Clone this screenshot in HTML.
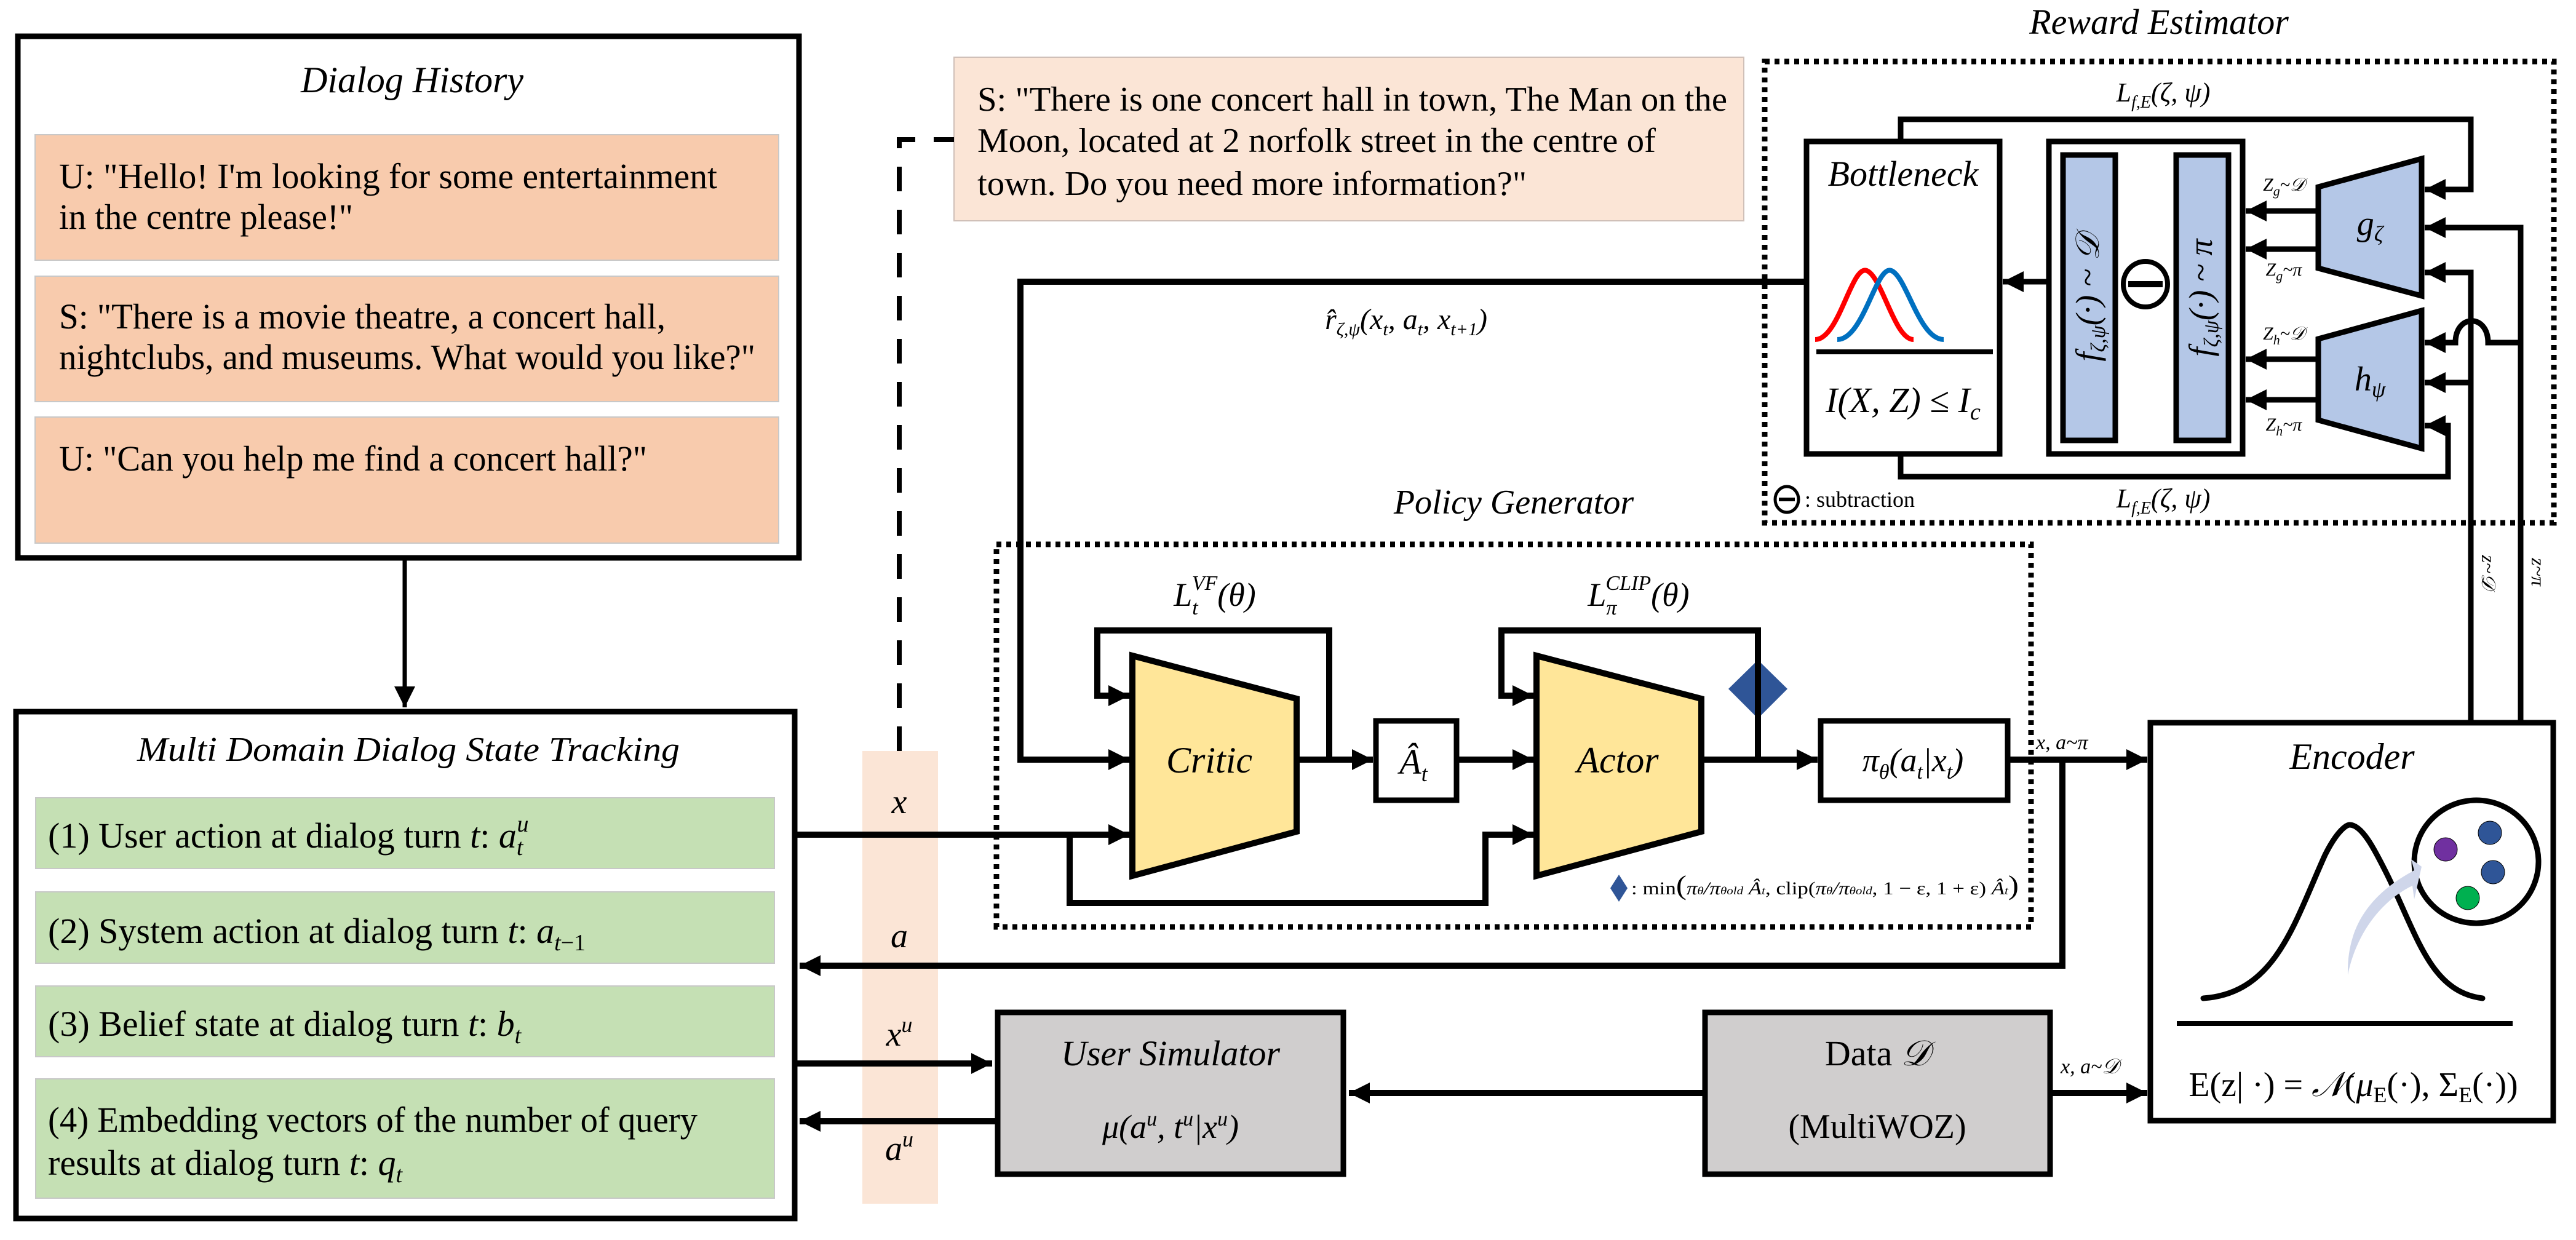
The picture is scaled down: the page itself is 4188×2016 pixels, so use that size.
<!DOCTYPE html>
<html><head><meta charset="utf-8"><style>
html,body{margin:0;padding:0;background:#fff;width:4188px;height:2016px;overflow:hidden}
svg{display:block}
text{font-family:"Liberation Serif","Times New Roman","Noto Serif CJK SC",serif;fill:#000}
.it{font-style:italic}
</style></head><body>
<svg width="4188" height="2016" viewBox="0 0 4188 2016" xmlns="http://www.w3.org/2000/svg" font-family="'Liberation Serif','Times New Roman','Noto Serif CJK SC',serif">
<defs>
<marker id="ar" markerUnits="userSpaceOnUse" markerWidth="34" markerHeight="34" viewBox="0 0 10 10" refX="10" refY="5" orient="auto"><path d="M0,0 L10,5 L0,10 z" fill="#000"/></marker>
</defs>
<g fill="none" stroke="#000" stroke-width="9">
<rect x="29" y="59" width="1270" height="848"/>
<rect x="26" y="1157" width="1266" height="824"/>
</g>
<g stroke="#c8c8c8" stroke-width="2">
<rect x="57" y="219" width="1209" height="204" fill="#f8cbad"/>
<rect x="57" y="449" width="1209" height="204" fill="#f8cbad"/>
<rect x="57" y="678" width="1209" height="205" fill="#f8cbad"/>
<rect x="58" y="1297" width="1201" height="115" fill="#c5e0b4"/>
<rect x="58" y="1450" width="1201" height="116" fill="#c5e0b4"/>
<rect x="58" y="1603" width="1201" height="115" fill="#c5e0b4"/>
<rect x="58" y="1754" width="1201" height="194" fill="#c5e0b4"/>
</g>
<rect x="1402" y="1221" width="123" height="736" fill="#fbe5d6"/>
<rect x="1551" y="93" width="1284" height="266" fill="#fbe5d6" stroke="#d0c0b8" stroke-width="2"/>

<text x="489" y="150" font-size="60" class="it" textLength="362" lengthAdjust="spacingAndGlyphs">Dialog History</text>
<g font-size="58">
<text x="96" y="306" textLength="1070" lengthAdjust="spacingAndGlyphs">U: "Hello!  I'm looking for some entertainment</text>
<text x="96" y="372" textLength="478" lengthAdjust="spacingAndGlyphs">in the centre please!"</text>
<text x="96" y="534" textLength="986" lengthAdjust="spacingAndGlyphs">S: "There is a movie theatre, a concert hall,</text>
<text x="96" y="600" textLength="1132" lengthAdjust="spacingAndGlyphs">nightclubs, and museums. What would you like?"</text>
<text x="96" y="765" textLength="956" lengthAdjust="spacingAndGlyphs">U: "Can you help me find a concert hall?"</text>
</g>
<g font-size="56">
<text x="1589" y="180" textLength="1219" lengthAdjust="spacingAndGlyphs">S: "There is one concert hall in town, The Man on the</text>
<text x="1589" y="247" textLength="1103" lengthAdjust="spacingAndGlyphs">Moon, located at 2 norfolk street in the centre of</text>
<text x="1589" y="317" textLength="893" lengthAdjust="spacingAndGlyphs">town. Do you need more information?"</text>
</g>
<text x="223" y="1237" font-size="56" class="it" textLength="882" lengthAdjust="spacingAndGlyphs">Multi Domain Dialog State Tracking</text>
<g font-size="58">
<text x="78" y="1378">(1) User action at dialog turn <tspan class="it">t</tspan>:  <tspan class="it">a</tspan><tspan class="it" font-size="38" dy="12">t</tspan><tspan class="it" font-size="38" dx="-10" dy="-38">u</tspan></text>
<text x="78" y="1533">(2) System action at dialog turn <tspan class="it">t</tspan>:  <tspan class="it">a</tspan><tspan font-size="38" dy="12"><tspan class="it">t</tspan>−1</tspan></text>
<text x="78" y="1684">(3) Belief state at dialog turn <tspan class="it">t</tspan>:  <tspan class="it">b</tspan><tspan class="it" font-size="38" dy="12">t</tspan></text>
<text x="78" y="1840" textLength="1056" lengthAdjust="spacingAndGlyphs">(4) Embedding vectors of the number of query</text>
<text x="78" y="1910">results at dialog turn <tspan class="it">t</tspan>:  <tspan class="it">q</tspan><tspan class="it" font-size="38" dy="12">t</tspan></text>
</g>
<g font-size="56" class="it" text-anchor="middle">
<text x="1462" y="1322">x</text>
<text x="1462" y="1540">a</text>
<text x="1462" y="1700">x<tspan font-size="36" dy="-22">u</tspan></text>
<text x="1462" y="1886">a<tspan font-size="36" dy="-22">u</tspan></text>
</g>

<path d="M1462 1221 V227 H1551" fill="none" stroke="#000" stroke-width="8" stroke-dasharray="40 30"/>

<rect x="1620" y="885" width="1682" height="622" fill="none" stroke="#000" stroke-width="9" stroke-dasharray="8 8"/>
<text x="2461" y="835" font-size="56" class="it" text-anchor="middle">Policy Generator</text>
<rect x="2869" y="100" width="1283" height="750" fill="none" stroke="#000" stroke-width="9" stroke-dasharray="8 8"/>
<text x="3510" y="55" font-size="58" class="it" text-anchor="middle">Reward Estimator</text>

<polygon points="1841,1066 2108,1136 2108,1352 1841,1424" fill="#ffe699" stroke="#000" stroke-width="10"/>
<polygon points="2498,1066 2766,1136 2766,1352 2498,1424" fill="#ffe699" stroke="#000" stroke-width="10"/>
<text x="1966" y="1256" font-size="60" class="it" text-anchor="middle">Critic</text>
<text x="2630" y="1256" font-size="60" class="it" text-anchor="middle">Actor</text>
<rect x="2237" y="1172" width="131" height="129" fill="#fff" stroke="#000" stroke-width="9"/>
<text x="2298" y="1258" font-size="58" class="it" text-anchor="middle">Â<tspan font-size="36" dy="12">t</tspan></text>
<rect x="2960" y="1172" width="304" height="129" fill="#fff" stroke="#000" stroke-width="9"/>
<text x="3110" y="1254" font-size="54" class="it" text-anchor="middle">π<tspan font-size="34" dy="12">θ</tspan><tspan dy="-12">(a</tspan><tspan font-size="34" dy="12">t</tspan><tspan dy="-12">|x</tspan><tspan font-size="34" dy="12">t</tspan><tspan dy="-12">)</tspan></text>
<polygon points="2858,1073 2906,1120 2858,1168 2810,1120" fill="#2f5597"/>
<text x="1975" y="985" font-size="54" class="it" text-anchor="middle">L<tspan font-size="34" dy="14">t</tspan><tspan font-size="34" dx="-10" dy="-40">VF</tspan><tspan dy="26">(θ)</tspan></text>
<text x="2664" y="985" font-size="54" class="it" text-anchor="middle">L<tspan font-size="34" dy="14">π</tspan><tspan font-size="34" dx="-18" dy="-40">CLIP</tspan><tspan dy="26">(θ)</tspan></text>
<polygon points="2632,1422 2646,1444 2632,1466 2618,1444" fill="#2f5597"/>
<text x="2652" y="1454" font-size="30" textLength="630" lengthAdjust="spacingAndGlyphs">: min<tspan font-size="44">(</tspan><tspan class="it">π<tspan font-size="18">θ</tspan>/π<tspan font-size="18">θold</tspan></tspan> <tspan class="it">Â<tspan font-size="18">t</tspan></tspan>,   clip(<tspan class="it">π<tspan font-size="18">θ</tspan>/π<tspan font-size="18">θold</tspan></tspan>, 1 − ε, 1 + ε) <tspan class="it">Â<tspan font-size="18">t</tspan></tspan><tspan font-size="44">)</tspan></text>

<g fill="none" stroke="#000" stroke-width="10">
<path d="M2935 458 H1659 V1235 H1836" marker-end="url(#ar)"/>
<path d="M2108 1235 H2232" marker-end="url(#ar)"/>
<path d="M2368 1235 H2493" marker-end="url(#ar)"/>
<path d="M2766 1235 H2955" marker-end="url(#ar)"/>
<path d="M3264 1235 H3491" marker-end="url(#ar)"/>
<path d="M2161 1235 V1025 H1784 V1131 H1836" marker-end="url(#ar)"/>
<path d="M2858 1235 V1025 H2441 V1131 H2493" marker-end="url(#ar)"/>
<path d="M1295 1357 H1836" marker-end="url(#ar)"/>
<path d="M1739 1357 V1468 H2415 V1357 H2493" marker-end="url(#ar)"/>
<path d="M3353 1235 V1570 H1300" marker-end="url(#ar)"/>
<path d="M1295 1729 H1613" marker-end="url(#ar)"/>
<path d="M1618 1823 H1300" marker-end="url(#ar)"/>
<path d="M2768 1777 H2193" marker-end="url(#ar)"/>
<path d="M3337 1777 H3491" marker-end="url(#ar)"/>
<path d="M658 907 V1150" stroke-width="7" marker-end="url(#ar)"/>
</g>
<text x="3310" y="1218" font-size="34" class="it">x, a~π</text>
<text x="3350" y="1745" font-size="34" class="it">x, a~𝒟</text>
<text x="2286" y="535" font-size="48" class="it" text-anchor="middle">r̂<tspan font-size="30" dy="10">ζ,ψ</tspan><tspan dy="-10">(x</tspan><tspan font-size="30" dy="10">t</tspan><tspan dy="-10">, a</tspan><tspan font-size="30" dy="10">t</tspan><tspan dy="-10">, x</tspan><tspan font-size="30" dy="10">t+1</tspan><tspan dy="-10">)</tspan></text>

<rect x="1622" y="1646" width="562" height="263" fill="#d0cece" stroke="#000" stroke-width="9"/>
<rect x="2772" y="1646" width="561" height="263" fill="#d0cece" stroke="#000" stroke-width="9"/>
<text x="1903" y="1732" font-size="58" class="it" text-anchor="middle">User Simulator</text>
<text x="1903" y="1850" font-size="54" class="it" text-anchor="middle">μ(a<tspan font-size="34" dy="-20">u</tspan><tspan dy="20">, t</tspan><tspan font-size="34" dy="-20">u</tspan><tspan dy="20">|x</tspan><tspan font-size="34" dy="-20">u</tspan><tspan dy="20">)</tspan></text>
<text x="3052" y="1732" font-size="58" text-anchor="middle">Data <tspan class="it">𝒟</tspan></text>
<text x="3052" y="1850" font-size="56" text-anchor="middle">(MultiWOZ)</text>

<rect x="3496" y="1175" width="655" height="647" fill="#fff" stroke="#000" stroke-width="9"/>
<text x="3824" y="1250" font-size="60" class="it" text-anchor="middle">Encoder</text>
<path d="M3582 1623 C3700 1615 3730 1500 3780 1390 C3800 1350 3815 1341 3820 1341 C3840 1341 3860 1380 3880 1420 C3930 1520 3950 1612 4036 1623" fill="none" stroke="#000" stroke-width="9" stroke-linecap="round"/>
<line x1="3539" y1="1664" x2="4085" y2="1664" stroke="#000" stroke-width="8"/>
<ellipse cx="4026" cy="1401" rx="101" ry="100" fill="#fff" stroke="#000" stroke-width="9"/>
<path d="M3817 1585 C3815 1500 3860 1450 3925 1415 L3920 1397 L3937 1409 L3925 1462 L3922 1440 C3870 1465 3830 1520 3817 1585 z" fill="#cfd6ea"/>
<circle cx="3976" cy="1381" r="19" fill="#7030a0" stroke="#000" stroke-width="1"/>
<circle cx="4048" cy="1354" r="19" fill="#2f5597" stroke="#000" stroke-width="1"/>
<circle cx="4053" cy="1418" r="19" fill="#2f5597" stroke="#000" stroke-width="1"/>
<circle cx="4012" cy="1460" r="19" fill="#00b050" stroke="#000" stroke-width="1"/>
<text x="3826" y="1782" font-size="56" text-anchor="middle">E(z| ·) =  <tspan class="it">𝒩</tspan>(<tspan class="it">μ</tspan><tspan font-size="36" dy="10">E</tspan><tspan dy="-10">(·), Σ</tspan><tspan font-size="36" dy="10">E</tspan><tspan dy="-10">(·))</tspan></text>

<rect x="2937" y="230" width="314" height="508" fill="#fff" stroke="#000" stroke-width="9"/>
<text x="3094" y="302" font-size="58" class="it" text-anchor="middle">Bottleneck</text>
<path d="M2951 552 C2990 552 3010 430 3035 440 C3060 450 3080 552 3111 552" fill="none" stroke="#f00" stroke-width="8"/>
<path d="M2987 552 C3030 552 3050 430 3075 440 C3100 450 3120 552 3160 552" fill="none" stroke="#0070c0" stroke-width="8"/>
<line x1="2953" y1="572" x2="3240" y2="572" stroke="#000" stroke-width="8"/>
<text x="3094" y="670" font-size="58" class="it" text-anchor="middle">I(X, Z) ≤ I<tspan font-size="38" dy="12">c</tspan></text>
<rect x="3331" y="230" width="315" height="508" fill="#fff" stroke="#000" stroke-width="9"/>
<rect x="3354" y="252" width="85" height="464" fill="#b4c7e7" stroke="#000" stroke-width="9"/>
<rect x="3538" y="252" width="85" height="464" fill="#b4c7e7" stroke="#000" stroke-width="9"/>
<text transform="translate(3412,484) rotate(-90)" font-size="54" class="it" text-anchor="middle">f<tspan font-size="34" dy="10">ζ,ψ</tspan><tspan dy="-10">(·) ~ 𝒟</tspan></text>
<text transform="translate(3596,484) rotate(-90)" font-size="54" class="it" text-anchor="middle">f<tspan font-size="34" dy="10">ζ,ψ</tspan><tspan dy="-10">(·) ~ π</tspan></text>
<ellipse cx="3488" cy="462" rx="36" ry="37" fill="#fff" stroke="#000" stroke-width="8"/>
<rect x="3460" y="457" width="56" height="10" fill="#000"/>
<polygon points="3769,304 3937,258 3937,481 3769,436" fill="#b4c7e7" stroke="#000" stroke-width="9"/>
<polygon points="3769,551 3937,505 3937,729 3769,683" fill="#b4c7e7" stroke="#000" stroke-width="9"/>
<text x="3853" y="382" font-size="56" class="it" text-anchor="middle">g<tspan font-size="36" dy="10">ζ</tspan></text>
<text x="3853" y="635" font-size="56" class="it" text-anchor="middle">h<tspan font-size="36" dy="10">ψ</tspan></text>
<g font-size="30" class="it" text-anchor="middle">
<text x="3713" y="310">Z<tspan font-size="22" dy="8">g</tspan><tspan dy="-8">~𝒟</tspan></text>
<text x="3713" y="448">Z<tspan font-size="22" dy="8">g</tspan><tspan dy="-8">~π</tspan></text>
<text x="3713" y="552">Z<tspan font-size="22" dy="8">h</tspan><tspan dy="-8">~𝒟</tspan></text>
<text x="3713" y="700">Z<tspan font-size="22" dy="8">h</tspan><tspan dy="-8">~π</tspan></text>
</g>
<g fill="none" stroke="#000" stroke-width="9">
<path d="M3331 458 H3256" marker-end="url(#ar)"/>
<path d="M3769 343 H3651" marker-end="url(#ar)"/>
<path d="M3769 405 H3651" marker-end="url(#ar)"/>
<path d="M3769 584 H3651" marker-end="url(#ar)"/>
<path d="M3769 650 H3651" marker-end="url(#ar)"/>
<path d="M3090 230 V194 H4017 V308 H3942" marker-end="url(#ar)"/>
<path d="M3090 738 V775 H3980 V692 H3942" marker-end="url(#ar)"/>
<path d="M4017 1175 V443 H3942" marker-end="url(#ar)"/>
<path d="M4017 622 H3942" marker-end="url(#ar)"/>
<path d="M4098 1175 V370 H3942" marker-end="url(#ar)"/>
<path d="M4098 557 H4045 C4045 510 3992 510 3992 557 H3942" marker-end="url(#ar)"/>
</g>
<text x="3517" y="165" font-size="44" class="it" text-anchor="middle">L<tspan font-size="28" dy="10">f,E</tspan><tspan dy="-10">(ζ, ψ)</tspan></text>
<text x="3517" y="825" font-size="44" class="it" text-anchor="middle">L<tspan font-size="28" dy="10">f,E</tspan><tspan dy="-10">(ζ, ψ)</tspan></text>
<ellipse cx="2905" cy="812" rx="19" ry="21" fill="none" stroke="#000" stroke-width="5"/>
<rect x="2892" y="809" width="26" height="6" fill="#000"/>
<text x="2934" y="824" font-size="36">: subtraction</text>
<text transform="translate(4035,930) rotate(90)" font-size="32" class="it" text-anchor="middle">z~𝒟</text>
<text transform="translate(4116,930) rotate(90)" font-size="32" class="it" text-anchor="middle">z~π</text>
</svg>
</body></html>
